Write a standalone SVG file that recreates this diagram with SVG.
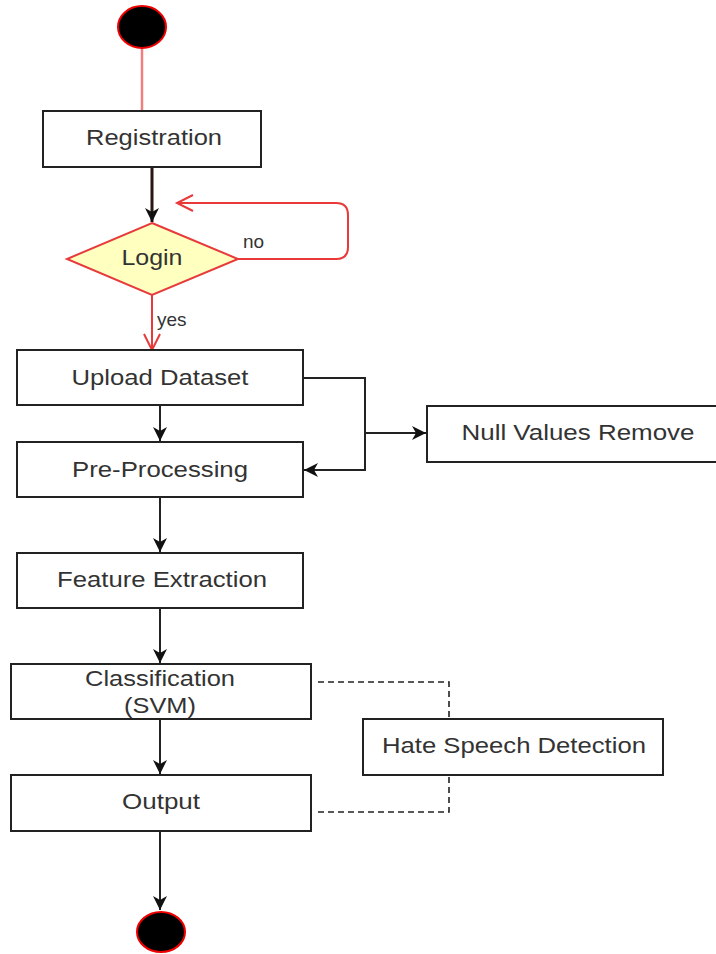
<svg xmlns="http://www.w3.org/2000/svg" width="716" height="954" viewBox="0 0 716 954">
<style>
.box{fill:#fff;stroke:#222;stroke-width:2}
.t{font-family:"Liberation Sans",Arial,sans-serif;font-size:22px;fill:#333;text-anchor:middle}
.lbl{font-family:"Liberation Sans",Arial,sans-serif;font-size:19px;fill:#333}
.blk{fill:none;stroke:#222;stroke-width:2}
.dash{fill:none;stroke:#222;stroke-width:1.6;stroke-dasharray:6 4}
.red{fill:none;stroke:#e83a3a;stroke-width:2}
.term{fill:#000;stroke:#e00;stroke-width:2}
</style>
<defs>
<marker id="arr" markerUnits="userSpaceOnUse" markerWidth="16" markerHeight="16" refX="14" refY="7" orient="auto">
<path d="M0,0 L14,7 L0,14 L4,7 Z" fill="#111"/>
</marker>
<marker id="open" markerUnits="userSpaceOnUse" markerWidth="20" markerHeight="20" refX="17" refY="9" orient="auto">
<path d="M1,1 L17,9 L1,17" fill="none" stroke="#e83a3a" stroke-width="2"/>
</marker>
</defs>
<g id="connectors">
<line x1="142" y1="48" x2="142" y2="111" stroke="#f08080" stroke-width="2.5"/>
<line x1="152" y1="167" x2="152" y2="222" stroke="#2a1515" stroke-width="3" marker-end="url(#arr)"/>
<path class="red" d="M238,259 H336 Q348,259 348,247 V215 Q348,203 336,203 H177" marker-end="url(#open)"/>
<line class="red" x1="152" y1="295" x2="152" y2="350" marker-end="url(#open)"/>
<path class="blk" d="M303,378 H365 V433 H426" marker-end="url(#arr)"/>
<path class="blk" d="M365,433 V470 H304" marker-end="url(#arr)"/>
<line class="blk" x1="160" y1="405" x2="160" y2="441" marker-end="url(#arr)"/>
<line class="blk" x1="160" y1="497" x2="160" y2="552" marker-end="url(#arr)"/>
<line class="blk" x1="160" y1="608" x2="160" y2="663" marker-end="url(#arr)"/>
<line class="blk" x1="160" y1="719" x2="160" y2="774" marker-end="url(#arr)"/>
<line class="blk" x1="160" y1="831" x2="160" y2="910" marker-end="url(#arr)"/>
<path class="dash" d="M318,682 H449 V719"/>
<path class="dash" d="M318,812 H449 V775"/>
<text class="lbl" x="243" y="248">no</text>
<text class="lbl" x="157" y="326">yes</text>
</g>
<g id="start"><ellipse class="term" cx="142" cy="27" rx="24" ry="21"/></g>
<g id="registration"><rect class="box" x="43" y="111" width="218" height="56"/><text class="t" x="154" y="145" textLength="136" lengthAdjust="spacingAndGlyphs">Registration</text></g>
<g id="login"><polygon points="152,223 238,259 152,295 67,259" fill="#ffffc0" stroke="#e83a3a" stroke-width="2"/><text class="t" x="152" y="265" textLength="61" lengthAdjust="spacingAndGlyphs">Login</text></g>
<g id="upload"><rect class="box" x="17" y="350" width="286" height="55"/><text class="t" x="160" y="385" textLength="177" lengthAdjust="spacingAndGlyphs">Upload Dataset</text></g>
<g id="null"><rect class="box" x="427" y="406" width="290" height="56"/><text class="t" x="578" y="440" textLength="233" lengthAdjust="spacingAndGlyphs">Null Values Remove</text></g>
<g id="preprocessing"><rect class="box" x="17" y="442" width="286" height="55"/><text class="t" x="160" y="477" textLength="176" lengthAdjust="spacingAndGlyphs">Pre-Processing</text></g>
<g id="feature"><rect class="box" x="17" y="553" width="286" height="55"/><text class="t" x="162" y="587" textLength="210" lengthAdjust="spacingAndGlyphs">Feature Extraction</text></g>
<g id="classification"><rect class="box" x="11" y="664" width="300" height="55"/><text class="t" x="160" y="686" textLength="150" lengthAdjust="spacingAndGlyphs">Classification</text><text class="t" x="160" y="713" textLength="72" lengthAdjust="spacingAndGlyphs">(SVM)</text></g>
<g id="hate"><rect class="box" x="363" y="719" width="300" height="56"/><text class="t" x="514" y="753" textLength="264" lengthAdjust="spacingAndGlyphs">Hate Speech Detection</text></g>
<g id="output"><rect class="box" x="11" y="775" width="300" height="56"/><text class="t" x="161" y="809" textLength="78" lengthAdjust="spacingAndGlyphs">Output</text></g>
<g id="end"><ellipse class="term" cx="161" cy="932" rx="24" ry="20"/></g>
</svg>
